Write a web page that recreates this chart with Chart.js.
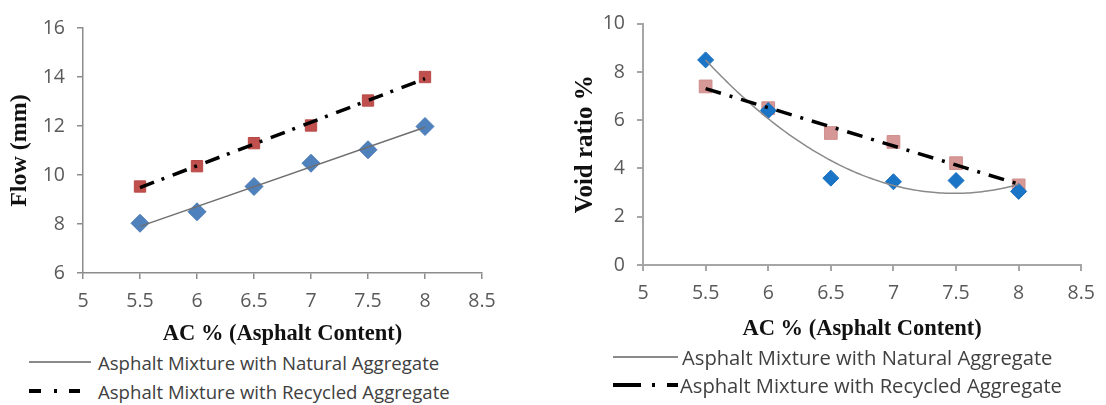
<!DOCTYPE html>
<html>
<head>
<meta charset="utf-8">
<script src="https://cdn.jsdelivr.net/npm/chart.js@4.4.1/dist/chart.umd.min.js"></script>
<style>
  html, body { margin: 0; padding: 0; background: #fff; }
  body { width: 1106px; height: 405px; position: relative; overflow: hidden; font-family: 'Open Sans', sans-serif; }
  .box { position: absolute; top: 0; }
  .legend-row { position: absolute; display: flex; align-items: center; color: #404040; white-space: nowrap; }
  .legend-row svg { display: block; }
</style>
</head>
<body>
<div class="box" style="left:0;width:545px;height:350px"><canvas id="chart-flow"></canvas></div>
<div class="box" style="left:560px;width:546px;height:345px"><canvas id="chart-void"></canvas></div>

<div class="legend-row" style="left:29px;top:350px;height:24px;font-size:18.6px">
  <svg width="62" height="6"><line x1="0" y1="3" x2="62" y2="3" stroke="#8a8a8a" stroke-width="2"/></svg>
  <span style="margin-left:7px">Asphalt Mixture with Natural Aggregate</span>
</div>
<div class="legend-row" style="left:29px;top:379px;height:24px;font-size:18.6px">
  <svg width="62" height="6"><line x1="0" y1="3" x2="51" y2="3" stroke="#000" stroke-width="4" stroke-dasharray="12 13 3 12 12"/></svg>
  <span style="margin-left:7px">Asphalt Mixture with Recycled Aggregate</span>
</div>
<div class="legend-row" style="left:613px;top:345px;height:24px;font-size:20.2px">
  <svg width="65" height="6"><line x1="0" y1="3" x2="65" y2="3" stroke="#8a8a8a" stroke-width="2"/></svg>
  <span style="margin-left:4px">Asphalt Mixture with Natural Aggregate</span>
</div>
<div class="legend-row" style="left:613px;top:373px;height:24px;font-size:20.2px">
  <svg width="65" height="6"><line x1="0" y1="3" x2="65" y2="3" stroke="#000" stroke-width="4" stroke-dasharray="28 11 3 12 11"/></svg>
  <span style="margin-left:2px">Asphalt Mixture with Recycled Aggregate</span>
</div>

<script>
/* ---------- data ---------- */
const acContent    = [5.5, 6, 6.5, 7, 7.5, 8];
const flowNatural  = [8.03, 8.5, 9.53, 10.48, 11.03, 11.98];
const flowRecycled = [9.53, 10.36, 11.3, 12.02, 13.04, 14.0];
const voidNatural  = [8.5, 6.4, 3.6, 3.45, 3.5, 3.05];
const voidRecycled = [7.4, 6.5, 5.47, 5.1, 4.22, 3.3];

const xAxisTicks   = [5, 5.5, 6, 6.5, 7, 7.5, 8, 8.5];
const flowTicks    = [6, 8, 10, 12, 14, 16];
const voidTicks    = [0, 2, 4, 6, 8, 10];

const SERIES_NATURAL  = 'Asphalt Mixture with Natural Aggregate';
const SERIES_RECYCLED = 'Asphalt Mixture with Recycled Aggregate';

Chart.defaults.font.family = "'Open Sans', sans-serif";
Chart.defaults.animation = false;

/* ---------- least-squares fit (Excel style trendline) ---------- */
function polyFit(xs, ys, degree) {
  const n = degree + 1;
  const A = [];
  for (let r = 0; r < n; r++) {
    A.push([]);
    for (let c = 0; c < n; c++) A[r].push(xs.reduce((s, x) => s + Math.pow(x, r + c), 0));
    A[r].push(xs.reduce((s, x, i) => s + Math.pow(x, r) * ys[i], 0));
  }
  // gauss elimination
  for (let i = 0; i < n; i++) {
    for (let k = i + 1; k < n; k++) {
      const f = A[k][i] / A[i][i];
      for (let j = i; j <= n; j++) A[k][j] -= f * A[i][j];
    }
  }
  const coef = new Array(n).fill(0);
  for (let i = n - 1; i >= 0; i--) {
    let s = A[i][n];
    for (let j = i + 1; j < n; j++) s -= A[i][j] * coef[j];
    coef[i] = s / A[i][i];
  }
  return x => coef.reduce((s, c, i) => s + c * Math.pow(x, i), 0);
}

const trendPlugin = {
  id: 'trend',
  afterDatasetsDraw(chart, args, opts) {
    const { ctx, chartArea, scales } = chart;
    ctx.save();
    ctx.beginPath();
    ctx.rect(chartArea.left, chartArea.top, chartArea.width, chartArea.height);
    ctx.clip();
    (opts.lines || []).forEach(t => {
      const ds = chart.data.datasets[t.dataset];
      const xs = ds.data.map(p => p.x);
      const ys = ds.data.map(p => p.y);
      const f = polyFit(xs, ys, t.degree);
      const x0 = Math.min(...xs), x1 = Math.max(...xs);
      const steps = t.degree === 1 ? 1 : 120;
      ctx.beginPath();
      for (let i = 0; i <= steps; i++) {
        const x = x0 + (x1 - x0) * i / steps;
        const px = scales.x.getPixelForValue(x);
        const py = scales.y.getPixelForValue(f(x));
        if (i === 0) ctx.moveTo(px, py); else ctx.lineTo(px, py);
      }
      ctx.strokeStyle = t.color;
      ctx.lineWidth = t.width;
      ctx.setLineDash(t.dash || []);
      ctx.lineCap = 'butt';
      ctx.stroke();
    });
    ctx.restore();
  },
};

function points(xs, ys) { return xs.map((x, i) => ({ x, y: ys[i] })); }

/* ---------- shared scatter chart builder ---------- */
function buildChart(id, cfg) {
  const ctx = document.getElementById(id).getContext('2d');
  const axis = { color: cfg.axisColor, width: cfg.axisWidth };
  return new Chart(ctx, {
    type: 'scatter',
    data: {
      datasets: [
        {
          label: SERIES_NATURAL,
          data: points(acContent, cfg.natural),
          pointStyle: 'rectRot',
          pointRadius: cfg.diamondRadius,
          backgroundColor: cfg.blue,
          borderColor: cfg.blueEdge,
          borderWidth: 1,
        },
        {
          label: SERIES_RECYCLED,
          data: points(acContent, cfg.recycled),
          pointStyle: 'rect',
          pointRadius: cfg.squareRadius,
          backgroundColor: cfg.red,
          borderColor: cfg.redEdge,
          borderWidth: 1,
        },
      ],
    },
    plugins: [trendPlugin],
    options: {
      responsive: true,
      maintainAspectRatio: false,
      events: [],
      layout: { padding: { top: cfg.area.top, left: 0, right: cfg.width - cfg.area.right, bottom: 0 } },
      plugins: {
        legend: { display: false },
        tooltip: { enabled: false },
        trend: {
          lines: [
            { dataset: 0, degree: cfg.naturalDegree, color: cfg.trendGray, width: 1.5 },
            { dataset: 1, degree: 1, color: '#000', width: 3.5, dash: cfg.dash },
          ],
        },
      },
      scales: {
        x: {
          type: 'linear',
          min: xAxisTicks[0],
          max: xAxisTicks[xAxisTicks.length - 1],
          afterBuildTicks: s => { s.ticks = xAxisTicks.map(v => ({ value: v })); },
          grid: { drawOnChartArea: false, tickLength: 6, color: axis.color, lineWidth: axis.width },
          border: { color: axis.color, width: axis.width },
          ticks: {
            color: '#595959', font: { size: 19.5 }, padding: cfg.xTickPad,
            maxRotation: 0, autoSkip: false, callback: v => String(v),
          },
          title: {
            display: true, text: 'AC % (Asphalt Content)', color: '#111',
            font: { family: "'Liberation Serif', 'Times New Roman', serif", size: 22.5, weight: 'bold' },
            padding: { top: 0, bottom: cfg.xTitleBottom },
          },
          afterFit: s => { s.height = cfg.height - cfg.area.bottom; },
        },
        y: {
          type: 'linear',
          min: cfg.yTicks[0],
          max: cfg.yTicks[cfg.yTicks.length - 1],
          afterBuildTicks: s => { s.ticks = cfg.yTicks.map(v => ({ value: v })); },
          grid: { drawOnChartArea: false, tickLength: 6, color: axis.color, lineWidth: axis.width },
          border: { color: axis.color, width: axis.width },
          ticks: { color: '#595959', font: { size: 19.5 }, padding: 12 },
          title: {
            display: true, text: cfg.yTitle, color: '#111',
            font: { family: "'Liberation Serif', 'Times New Roman', serif", size: cfg.yTitleSize, weight: 'bold' },
            padding: { top: cfg.yTitleTop, bottom: 0 },
          },
          afterFit: s => { s.width = cfg.area.left; },
        },
      },
    },
  });
}

buildChart('chart-flow', {
  width: 545, height: 350,
  area: { left: 83, right: 482, top: 28, bottom: 273 },
  natural: flowNatural, recycled: flowRecycled,
  yTicks: flowTicks, yTitle: 'Flow (mm)', yTitleTop: 5, yTitleSize: 24,
  xTickPad: 11, xTitleBottom: 2,
  blue: '#4f81bd', blueEdge: '#4a7ab4', red: '#c0504d', redEdge: '#b84a47',
  diamondRadius: 9, squareRadius: 8,
  axisColor: '#8c8c8c', axisWidth: 1.5,
  trendGray: '#6f6f6f', naturalDegree: 1,
  dash: [15, 8, 3, 9],
});

buildChart('chart-void', {
  width: 546, height: 345,
  area: { left: 83, right: 526, top: 21, bottom: 265 },
  natural: voidNatural, recycled: voidRecycled,
  yTicks: voidTicks, yTitle: 'Void ratio %', yTitleTop: 11, yTitleSize: 25,
  xTickPad: 11, xTitleBottom: 2,
  blue: '#1b75c6', blueEdge: '#1a6fbd', red: '#d69896', redEdge: '#cf8f8d',
  diamondRadius: 8, squareRadius: 9,
  axisColor: '#a6a6a6', axisWidth: 2,
  trendGray: '#8a8a8a', naturalDegree: 2,
  dash: [16, 9, 3, 9],
});
</script>
</body>
</html>
